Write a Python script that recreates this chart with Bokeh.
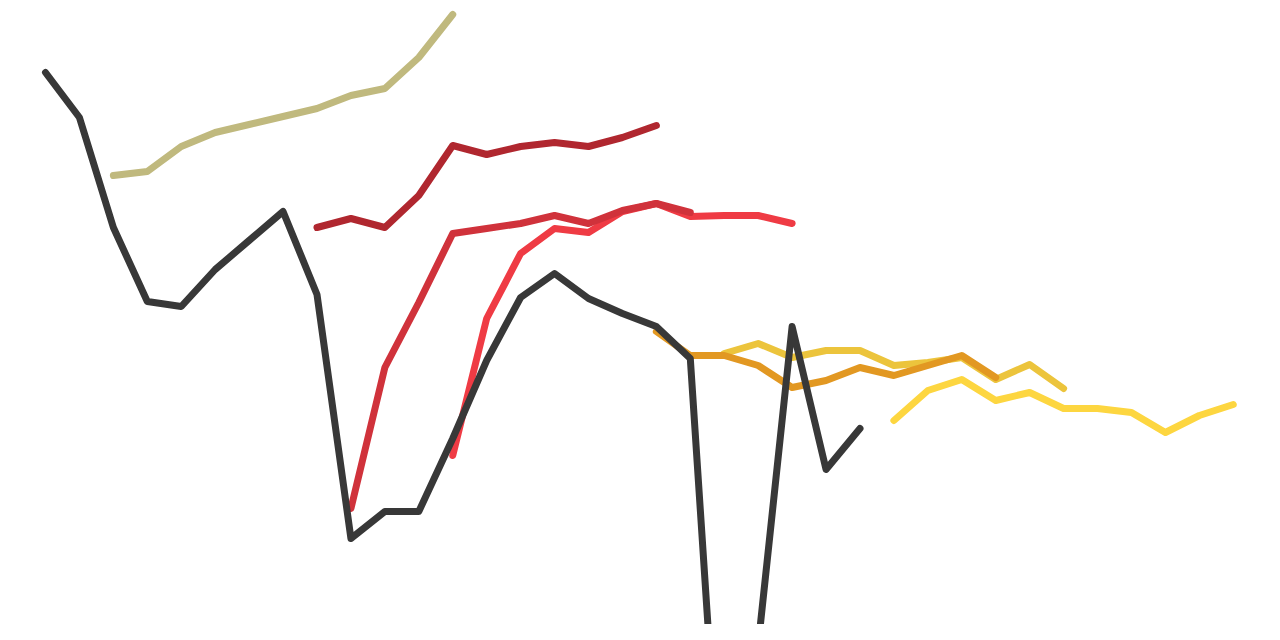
from bokeh.embed import file_html
from bokeh.models import Range1d
from bokeh.plotting import figure
from bokeh.resources import INLINE

# series values, one point per period; a series starts at its first period
black = [56.8,52.3,41.3,33.9,33.4,37.1,40.0,42.9,34.6,10.2,12.9,12.9,20.2,28.0,34.3,36.7,34.2,32.7,31.4,28.2,-23.1,-0.5,31.4,17.1,21.2]
black_start = 0

tan = [46.5,46.9,49.4,50.8,51.6,52.4,53.2,54.5,55.2,58.3,62.6]
tan_start = 2

darkred = [41.3,42.2,41.3,44.5,49.5,48.6,49.4,49.8,49.4,50.3,51.5]
darkred_start = 8

midred = [13.2,27.3,33.8,40.7,41.2,41.7,42.5,41.7,43.0,43.7,42.8]
midred_start = 9

brightred = [18.5,32.2,38.7,41.2,40.8,42.9,43.7,42.4,42.5,42.5,41.7]
brightred_start = 12

orange = [30.9,28.5,28.5,27.5,25.3,26.0,27.3,26.5,27.5,28.5,26.3]
orange_start = 18

gold = [28.7,29.7,28.3,29.0,29.0,27.5,27.8,28.3,26.1,27.6,25.2]
gold_start = 20

yellow = [22.0,25.0,26.1,24.0,24.8,23.2,23.2,22.8,20.8,22.5,23.6]
yellow_start = 25

# drawn bottom first
series = [
	(yellow, yellow_start, "#fdd640"),
	(gold, gold_start, "#ecc43c"),
	(orange, orange_start, "#e29822"),
	(brightred, brightred_start, "#ef3b44"),
	(midred, midred_start, "#d0323b"),
	(darkred, darkred_start, "#b0272f"),
	(tan, tan_start, "#c0b97e"),
	(black, black_start, "#383838"),
]

p = figure(width=1264, height=624, output_backend="svg", toolbar_location=None)

p.x_range = Range1d(-1.326, 35.92)
p.y_range = Range1d(1.6, 64.0)

p.axis.visible = False
p.grid.visible = False
p.outline_line_color = None
p.background_fill_color = "white"
p.border_fill_color = "white"

p.min_border_left = 0
p.min_border_right = 0
p.min_border_top = 0
p.min_border_bottom = 0

for values, start, color in series:
	xs = list(range(start, start + len(values)))
	p.line(xs, values, line_color=color, line_width=7,
		line_cap="round", line_join="round")

open("out.html", "w").write(file_html(p, INLINE))
